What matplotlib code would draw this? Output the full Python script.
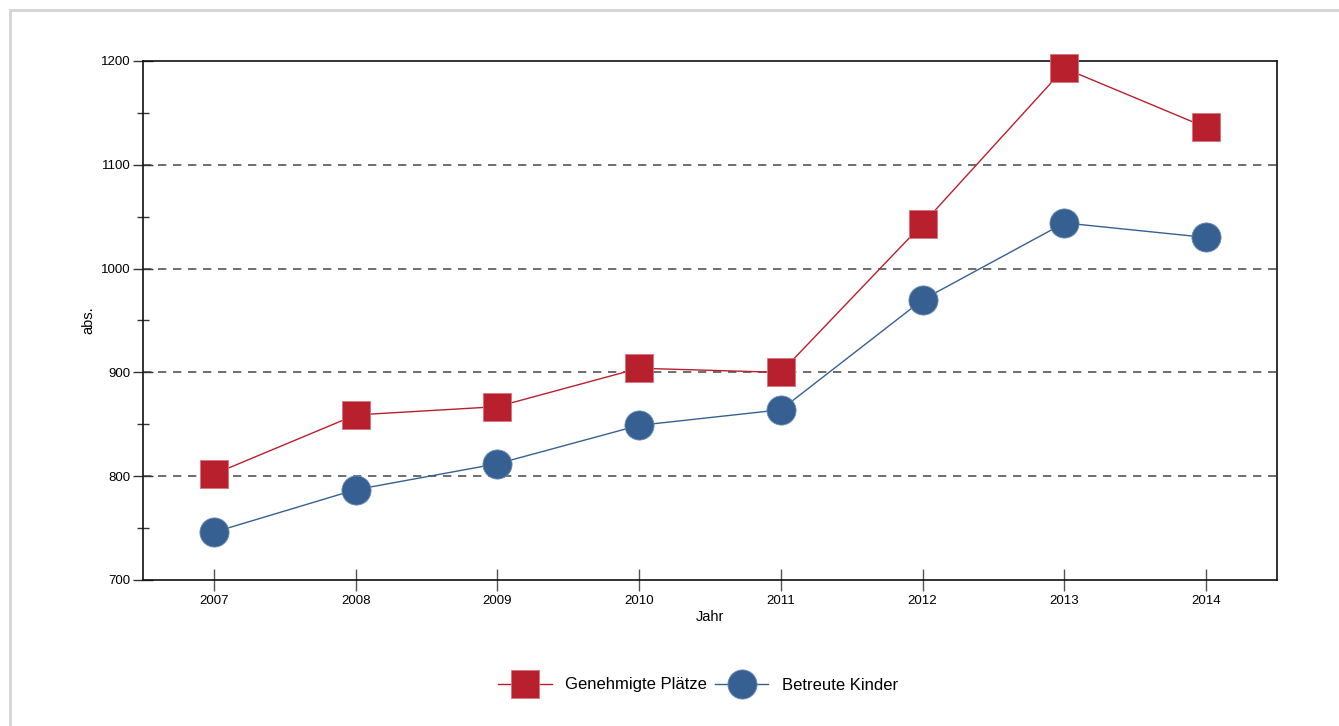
import matplotlib
matplotlib.use("Agg")
import matplotlib.pyplot as plt
from matplotlib.patches import Rectangle
from matplotlib.ticker import MultipleLocator

plt.rcParams['font.family'] = ['Liberation Sans', 'DejaVu Sans']

years = [2007, 2008, 2009, 2010, 2011, 2012, 2013, 2014]
plaetze = [802, 859, 867, 904, 900, 1043, 1193, 1136]
kinder = [746, 787, 812, 849, 864, 970, 1044, 1030]

red = '#b8202e'
blue = '#376092'

fig = plt.figure(figsize=(13.39, 7.26), dpi=100)
# light frame around the whole chart (left and top visible)
fig.patches.append(Rectangle((10 / 1339, -0.1), 1.2, 1 - 10 / 726 + 0.1,
                             transform=fig.transFigure, fill=False,
                             edgecolor='#d4d4d4', linewidth=2))

ax = fig.add_axes([143 / 1339, 1 - 580 / 726, (1277 - 143) / 1339, (580 - 61) / 726])

ax.plot(years, plaetze, color=red, linewidth=1, marker='s', markersize=20.5,
        markeredgecolor='#d9707a', markeredgewidth=0.6, label='Genehmigte Plätze', zorder=3,
        clip_on=False)
ax.plot(years, kinder, color=blue, linewidth=1, marker='o', markersize=21,
        markeredgecolor='#6d8db5', markeredgewidth=0.6, label='Betreute Kinder', zorder=3,
        clip_on=False)

ax.set_xlim(2006.5, 2014.5)
ax.set_ylim(700, 1200)
ax.set_xticks(years)
ax.yaxis.set_major_locator(MultipleLocator(100))
ax.yaxis.set_minor_locator(MultipleLocator(50))

for y in [800, 900, 1000, 1100]:
    ax.axhline(y, color='#555555', linestyle=(0, (5, 4)), linewidth=1.2, zorder=1)

ax.tick_params(axis='y', which='major', direction='inout', length=14, width=1,
               color='#333333', labelsize=9.5, pad=2)
ax.tick_params(axis='y', which='minor', direction='inout', length=8, width=1,
               color='#333333')
ax.tick_params(axis='x', which='major', direction='inout', length=16, width=1,
               color='#555555', labelsize=9.5, pad=3)
for s in ax.spines.values():
    s.set_linewidth(1.2)
    s.set_color('#111111')

ax.set_xlabel('Jahr', fontsize=10.5, labelpad=2)
ax.set_ylabel('abs.', fontsize=10.5, labelpad=4)

fig.legend(loc='center', bbox_to_anchor=(698 / 1339, 1 - 685 / 726), ncol=2,
           frameon=False, fontsize=12, handlelength=3.2, columnspacing=0.5,
           handletextpad=0.8)

fig.savefig('out.png', dpi=100)
